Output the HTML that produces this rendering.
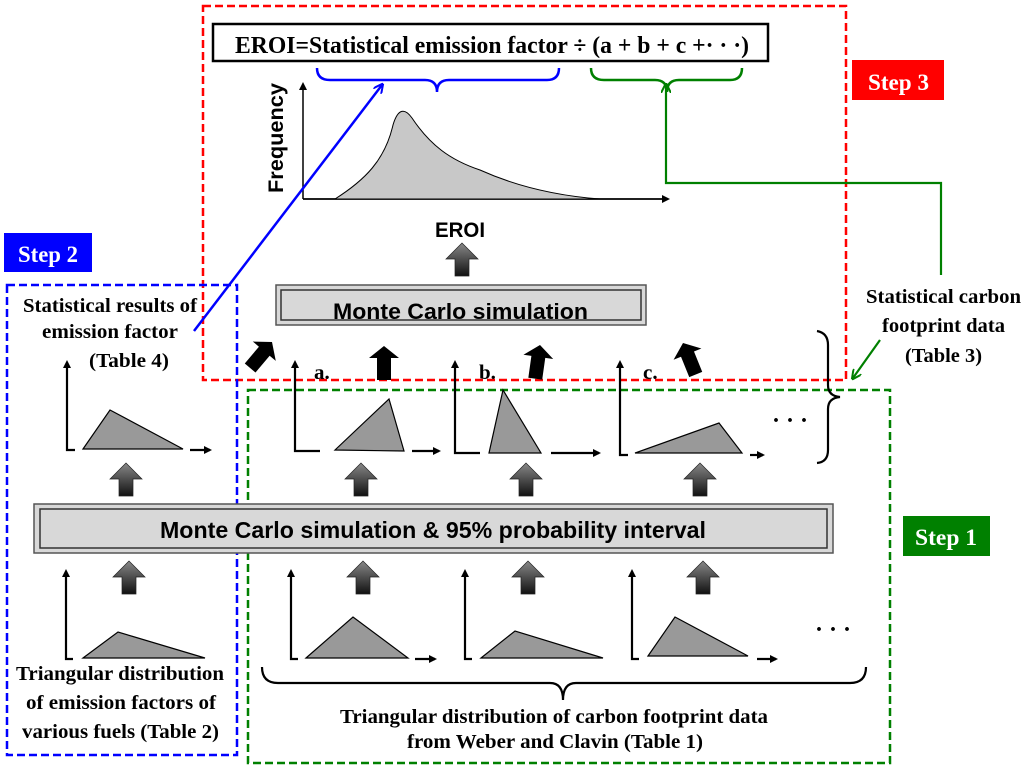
<!DOCTYPE html>
<html><head><meta charset="utf-8"><style>
html,body{margin:0;padding:0;background:#fff;}
svg{display:block;}
.t{font-family:"Liberation Serif",serif;font-weight:bold;fill:#000;}
.s{font-family:"Liberation Sans",sans-serif;font-weight:bold;fill:#000;}
</style></head><body>
<svg width="1024" height="770" viewBox="0 0 1024 770" xmlns="http://www.w3.org/2000/svg">
<defs>
<marker id="ah" markerWidth="8" markerHeight="8" refX="6" refY="4" orient="auto" markerUnits="userSpaceOnUse"><path d="M0,0 L8,4 L0,8 z" fill="#000"/></marker>
<marker id="ab" markerWidth="10" markerHeight="10" refX="8" refY="5" orient="auto" markerUnits="userSpaceOnUse"><path d="M0,0 L10,5 L0,10" fill="none" stroke="#0000ff" stroke-width="2"/></marker>
<marker id="ag" markerWidth="10" markerHeight="10" refX="8" refY="5" orient="auto" markerUnits="userSpaceOnUse"><path d="M0,0 L10,5 L0,10" fill="none" stroke="#008000" stroke-width="2"/></marker>
<linearGradient id="gg" x1="0" y1="0" x2="0" y2="1"><stop offset="0" stop-color="#888"/><stop offset="1" stop-color="#111"/></linearGradient>
<g id="ga"><path d="M0,0 L-16,16 L-7,16 L-7,33 L7,33 L7,16 L16,16 z" fill="url(#gg)" stroke="#222" stroke-width="0.7"/></g>
<g id="ba"><path d="M0,0 L-15,12 L-7,12 L-7,34 L7,34 L7,12 L15,12 z" fill="#000"/></g>
</defs>

<rect x="203" y="6" width="643" height="374" fill="none" stroke="#ff0000" stroke-width="2.5" stroke-dasharray="8,4"/>
<rect x="7" y="285" width="230" height="470" fill="none" stroke="#0000ff" stroke-width="2.5" stroke-dasharray="8,4"/>
<rect x="248" y="390" width="642" height="373" fill="none" stroke="#008000" stroke-width="2.5" stroke-dasharray="8,4"/>

<rect x="852" y="60" width="92" height="40" fill="#ff0000"/>
<text x="868" y="90" class="t" font-size="23" textLength="61" lengthAdjust="spacingAndGlyphs" style="fill:#fff">Step 3</text>
<rect x="4" y="233" width="88" height="39" fill="#0000ff"/>
<text x="18" y="262" class="t" font-size="23" textLength="60" lengthAdjust="spacingAndGlyphs" style="fill:#fff">Step 2</text>
<rect x="903" y="516" width="87" height="40" fill="#008000"/>
<text x="915" y="545" class="t" font-size="23" textLength="62" lengthAdjust="spacingAndGlyphs" style="fill:#fff">Step 1</text>

<rect x="213" y="24" width="555" height="37" fill="#fff" stroke="#000" stroke-width="2.5"/>
<text x="235" y="53" class="t" font-size="24" textLength="514" lengthAdjust="spacingAndGlyphs">EROI=Statistical emission factor ÷ (a + b + c +· · ·)</text>

<path d="M317,68 Q317,80 330,80 L425,80 Q437,80 437,92 Q437,80 449,80 L547,80 Q559,80 559,68" fill="none" stroke="#0000ff" stroke-width="2.5"/>
<path d="M591,68 Q591,80 604,80 L655,80 Q667,80 667,92 Q667,80 679,80 L730,80 Q742,80 742,68" fill="none" stroke="#008000" stroke-width="2.5"/>

<text transform="translate(283,138) rotate(-90)" class="s" font-size="21" text-anchor="middle" textLength="110" lengthAdjust="spacingAndGlyphs">Frequency</text>
<line x1="303" y1="199" x2="303" y2="84" stroke="#000" stroke-width="1.5" marker-end="url(#ah)"/>
<line x1="303" y1="199" x2="668" y2="199" stroke="#000" stroke-width="1.8" marker-end="url(#ah)"/>
<path d="M335,199 C365,180 385,160 393,125 C398,108 405,108 412,118 C430,145 450,160 480,170 C520,188 560,196 600,199 z" fill="#c8c8c8" stroke="#000" stroke-width="1"/>
<text x="435" y="237" class="s" font-size="21" textLength="50" lengthAdjust="spacingAndGlyphs">EROI</text>
<use href="#ga" x="462" y="243"/>

<rect x="276" y="285" width="370" height="40" fill="#d8d8d8" stroke="#555" stroke-width="1.5"/>
<rect x="281" y="290" width="360" height="30" fill="#d8d8d8" stroke="#333" stroke-width="1.5"/>
<text x="333" y="319" class="s" font-size="22" textLength="255" lengthAdjust="spacingAndGlyphs">Monte Carlo simulation</text>

<line x1="194" y1="331" x2="382" y2="85" stroke="#0000ff" stroke-width="2.5" marker-end="url(#ab)"/>
<polyline points="941,275 941,183 666,183 666,85" fill="none" stroke="#008000" stroke-width="2.2" marker-end="url(#ag)"/>
<line x1="880" y1="340" x2="853" y2="378" stroke="#008000" stroke-width="2.2" marker-end="url(#ag)"/>

<g class="t" font-size="20" lengthAdjust="spacingAndGlyphs">
<text x="23" y="312" textLength="174" lengthAdjust="spacingAndGlyphs">Statistical results of</text>
<text x="42" y="338" textLength="136" lengthAdjust="spacingAndGlyphs">emission factor</text>
<text x="89" y="367" textLength="80" lengthAdjust="spacingAndGlyphs">(Table 4)</text>
<text x="866" y="303" textLength="155" lengthAdjust="spacingAndGlyphs">Statistical carbon</text>
<text x="882" y="332" textLength="123" lengthAdjust="spacingAndGlyphs">footprint data</text>
<text x="905" y="362" textLength="77" lengthAdjust="spacingAndGlyphs">(Table 3)</text>
<text x="16" y="680" textLength="208" lengthAdjust="spacingAndGlyphs">Triangular distribution</text>
<text x="26" y="709" textLength="190" lengthAdjust="spacingAndGlyphs">of emission factors of</text>
<text x="22" y="738" textLength="197" lengthAdjust="spacingAndGlyphs">various fuels (Table 2)</text>
<text x="340" y="723" textLength="428" lengthAdjust="spacingAndGlyphs">Triangular distribution of carbon footprint data</text>
<text x="407" y="748" textLength="296" lengthAdjust="spacingAndGlyphs">from Weber and Clavin (Table 1)</text>
</g>
<g class="t" font-size="21">
<text x="314" y="379">a.</text><text x="479" y="379">b.</text><text x="643" y="379">c.</text>
</g>

<use href="#ba" transform="translate(272,342) rotate(40)"/>
<use href="#ba" transform="translate(384,346)"/>
<use href="#ba" transform="translate(540,345) rotate(8)"/>
<use href="#ba" transform="translate(683,343) rotate(-22)"/>

<g stroke="#000" stroke-width="2.2" fill="none">
<polyline points="67,367 67,450 75,450"/>
<polyline points="295,367 295,451 320,451"/>
<polyline points="455,367 455,453 480,453"/>
<polyline points="620,367 620,455 628,455"/>
<line x1="190" y1="450" x2="210" y2="450" marker-end="url(#ah)"/>
<line x1="412" y1="451" x2="439" y2="451" marker-end="url(#ah)"/>
<line x1="551" y1="453" x2="599" y2="453" marker-end="url(#ah)"/>
<line x1="750" y1="455" x2="763" y2="455" marker-end="url(#ah)"/>
</g>
<g fill="#000"><path d="M67,360 l-4,8 h8z"/><path d="M295,360 l-4,8 h8z"/><path d="M455,360 l-4,8 h8z"/><path d="M620,360 l-4,8 h8z"/></g>
<g fill="#999" stroke="#000" stroke-width="1.2">
<polygon points="83,449 110,410 183,449"/>
<polygon points="335,450 389,399 404,451"/>
<polygon points="489,453 503,390 541,453"/>
<polygon points="635,453 719,423 742,453"/>
</g>
<text x="772" y="428" class="t" font-size="24">· · ·</text>
<path d="M817,331 Q828,333 828,345 L828,385 Q828,396 840,397 Q828,398 828,409 L828,450 Q828,462 817,463" fill="none" stroke="#000" stroke-width="2.2"/>

<use href="#ga" x="126" y="463"/><use href="#ga" x="361" y="463"/><use href="#ga" x="526" y="463"/><use href="#ga" x="700" y="463"/>

<rect x="34" y="504" width="799" height="49" fill="#d8d8d8" stroke="#555" stroke-width="1.5"/>
<rect x="40" y="509" width="787" height="39" fill="#d8d8d8" stroke="#333" stroke-width="1.5"/>
<text x="160" y="538" class="s" font-size="23" textLength="546" lengthAdjust="spacingAndGlyphs">Monte Carlo simulation &amp; 95% probability interval</text>

<use href="#ga" x="129" y="561"/><use href="#ga" x="363" y="561"/><use href="#ga" x="528" y="561"/><use href="#ga" x="703" y="561"/>

<g stroke="#000" stroke-width="2.2" fill="none">
<polyline points="66,576 66,659 73,659"/>
<polyline points="291,576 291,659 298,659"/>
<polyline points="465,576 465,659 472,659"/>
<polyline points="632,576 632,659 639,659"/>
<line x1="415" y1="659" x2="435" y2="659" marker-end="url(#ah)"/>
<line x1="757" y1="659" x2="776" y2="659" marker-end="url(#ah)"/>
</g>
<g fill="#000"><path d="M66,569 l-4,8 h8z"/><path d="M291,569 l-4,8 h8z"/><path d="M465,569 l-4,8 h8z"/><path d="M632,569 l-4,8 h8z"/></g>
<g fill="#999" stroke="#000" stroke-width="1.2">
<polygon points="83,658 118,632 205,658"/>
<polygon points="306,658 353,617 408,658"/>
<polygon points="481,658 515,631 603,658"/>
<polygon points="648,656 675,617 748,656"/>
</g>
<text x="815" y="637" class="t" font-size="24">· · ·</text>
<path d="M262,667 Q262,683 278,683 L550,683 Q563,683 563,700 Q563,683 576,683 L850,683 Q866,683 866,667" fill="none" stroke="#000" stroke-width="2.2"/>
</svg>
</body></html>
